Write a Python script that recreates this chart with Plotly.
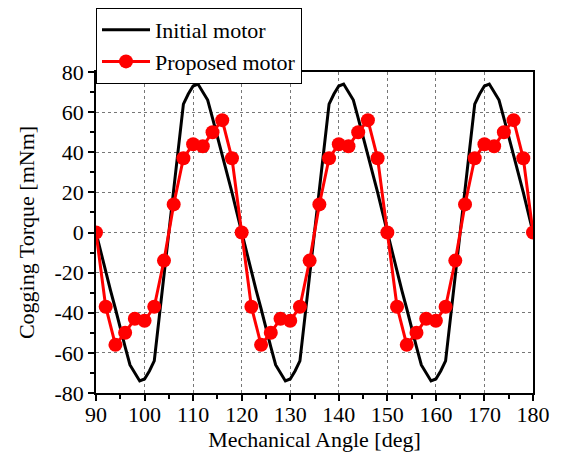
import plotly.graph_objects as go

# Initial motor: cogging torque sampled every 1 deg, 90..180
angle_initial = list(range(90, 181))
torque_initial = [
    0, -10, -20, -29, -38, -48, -57, -66, -70, -74, -73, -69, -64, -43, -21,
    0, 21, 43, 64, 69, 73, 74, 70, 66, 57, 48, 38, 29, 20, 10,
    0, -10, -20, -29, -38, -48, -57, -66, -70, -74, -73, -69, -64, -43, -21,
    0, 21, 43, 64, 69, 73, 74, 70, 66, 57, 48, 38, 29, 20, 10,
    0, -10, -20, -29, -38, -48, -57, -66, -70, -74, -73, -69, -64, -43, -21,
    0, 21, 43, 64, 69, 73, 74, 70, 66, 57, 48, 38, 29, 20, 10,
    0,
]

# Proposed motor: sampled every 2 deg, 90..180
angle_proposed = list(range(90, 181, 2))
torque_proposed = [
    0, -37, -56, -50, -43, -44, -37, -14, 14, 37, 44, 43, 50, 56, 37,
    0, -37, -56, -50, -43, -44, -37, -14, 14, 37, 44, 43, 50, 56, 37,
    0, -37, -56, -50, -43, -44, -37, -14, 14, 37, 44, 43, 50, 56, 37,
    0,
]

x_ticks = list(range(90, 181, 10))
y_ticks = list(range(-80, 81, 20))
y_tick_labels = [str(v) for v in y_ticks]  # plain hyphen minus

FONT = "Liberation Serif"
FS = 22

fig = go.Figure()
fig.add_trace(go.Scatter(
    x=angle_initial, y=torque_initial, mode="lines", name="Initial motor",
    line=dict(color="black", width=3),
))
fig.add_trace(go.Scatter(
    x=angle_proposed, y=torque_proposed, mode="lines+markers", name="Proposed motor",
    line=dict(color="#ff0000", width=3),
    marker=dict(color="#ff0000", size=14),
))

axis_common = dict(
    showline=True, linecolor="black", linewidth=1.5, mirror=True,
    ticks="outside", tickcolor="black", ticklen=6, tickwidth=1.5,
    showgrid=True, gridcolor="#777777", griddash="dot", gridwidth=1,
    zeroline=False,
    tickfont=dict(family=FONT, size=FS, color="black"),
    title_font=dict(family=FONT, size=FS, color="black"),
)

fig.update_xaxes(
    range=[90, 180], tickvals=x_ticks, title_text="Mechanical Angle [deg]",
    minor=dict(ticks="outside", ticklen=4, tickcolor="black", tickwidth=1.5, dtick=5, showgrid=False),
    ticklabelstandoff=-5,
    title_standoff=4,
    **axis_common,
)
fig.update_yaxes(
    range=[-80, 80], tickvals=y_ticks, ticktext=y_tick_labels,
    title_text="Cogging Torque [mNm]",
    minor=dict(ticks="outside", ticklen=4, tickcolor="black", tickwidth=1.5, dtick=10, showgrid=False),
    title_standoff=14,
    **axis_common,
)

fig.update_layout(
    width=555, height=451,
    margin=dict(l=88, r=30, t=64, b=66, autoexpand=False),
    paper_bgcolor="white", plot_bgcolor="white",
    font=dict(family=FONT, size=FS, color="black"),
    legend=dict(
        x=0, y=1.0, xanchor="left", yanchor="top", yref="container",
        bordercolor="black", borderwidth=1, bgcolor="white",
        font=dict(family=FONT, size=FS, color="black"),
        itemwidth=48, tracegroupgap=0,
    ),
)

fig.write_html("out.html")
